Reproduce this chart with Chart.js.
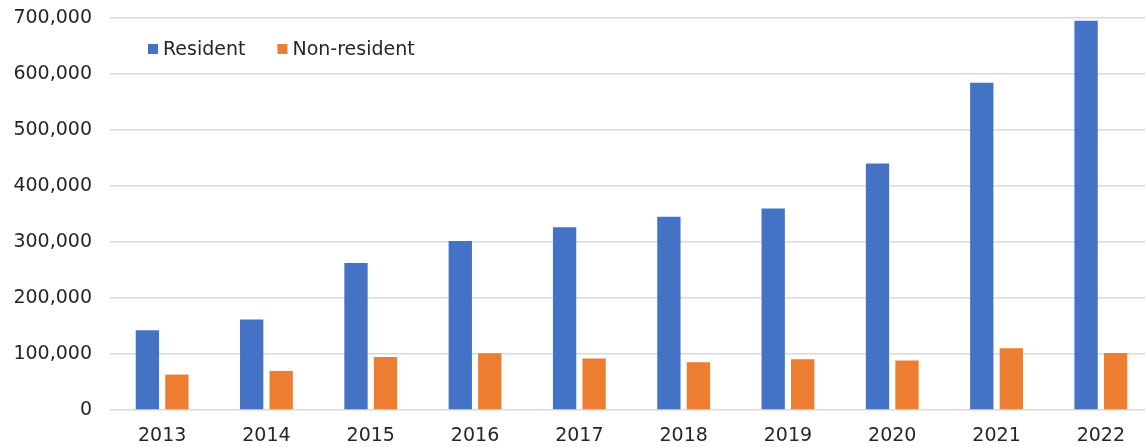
<!DOCTYPE html>
<html>
<head>
<meta charset="utf-8">
<script src="https://cdn.jsdelivr.net/npm/chart.js@4/dist/chart.umd.min.js"></script>
<style>
  html, body { margin: 0; padding: 0; background: #ffffff; overflow: hidden; }
  #wrap { width: 1153px; height: 447px; }
</style>
</head>
<body>
<div id="wrap"><canvas id="c" width="1153" height="447"></canvas></div>
<script>
const years = ['2013','2014','2015','2016','2017','2018','2019','2020','2021','2022'];
const resident = [142600, 161700, 262400, 301800, 326300, 345300, 359600, 440100, 584400, 695300];
const nonResident = [63300, 69800, 94800, 101400, 91900, 85300, 90700, 88400, 110400, 102000];
const yTicks = [0, 100000, 200000, 300000, 400000, 500000, 600000, 700000];

const FONT = "'DejaVu Sans', Verdana, sans-serif";
const FONT_SIZE = 19;
const TEXT = '#262626';
const fmt = v => v.toLocaleString('en-US');

// Legend drawn inside the plot area (top-left), using dataset labels/colours.
const insideLegend = {
  id: 'insideLegend',
  afterDraw(chart) {
    const ctx = chart.ctx;
    const area = chart.chartArea;
    let x = area.left + 38;
    const cy = area.top + 31;
    ctx.save();
    ctx.font = FONT_SIZE + 'px ' + FONT;
    ctx.textBaseline = 'middle';
    ctx.textAlign = 'left';
    chart.data.datasets.forEach(ds => {
      ctx.fillStyle = ds.backgroundColor;
      ctx.fillRect(x, cy - 5, 10, 10);
      x += 15;
      ctx.fillStyle = TEXT;
      ctx.fillText(ds.label, x, cy + 1);
      x += ctx.measureText(ds.label).width + 32;
    });
    ctx.restore();
  }
};

new Chart(document.getElementById('c'), {
  type: 'bar',
  data: {
    labels: years,
    datasets: [
      { label: 'Resident', data: resident, backgroundColor: '#4472C4', borderWidth: 0,
        categoryPercentage: 0.566, barPercentage: 0.79 },
      { label: 'Non-resident', data: nonResident, backgroundColor: '#ED7D31', borderWidth: 0,
        categoryPercentage: 0.566, barPercentage: 0.79 }
    ]
  },
  plugins: [insideLegend],
  options: {
    responsive: false,
    animation: false,
    devicePixelRatio: 1,
    layout: { padding: { top: 18, left: 0, right: 0, bottom: 0 } },
    plugins: {
      tooltip: { enabled: false },
      legend: { display: false }
    },
    scales: {
      x: {
        grid: { display: false, drawTicks: false },
        border: { display: false },
        ticks: { color: TEXT, font: { family: FONT, size: FONT_SIZE }, padding: 15, maxRotation: 0 },
        afterFit: axis => { axis.height = 37; axis.paddingLeft = 0; axis.paddingRight = 0; }
      },
      y: {
        min: 0, max: 700000,
        afterBuildTicks: axis => { axis.ticks = yTicks.map(v => ({ value: v })); },
        grid: { color: '#d9d9d9', lineWidth: 1.5, drawTicks: false },
        border: { display: false },
        ticks: { color: TEXT, font: { family: FONT, size: FONT_SIZE }, padding: 18, callback: v => fmt(v) },
        afterFit: axis => { axis.width = 110; axis.paddingTop = 0; axis.paddingBottom = 0; }
      }
    }
  }
});
</script>
</body>
</html>
